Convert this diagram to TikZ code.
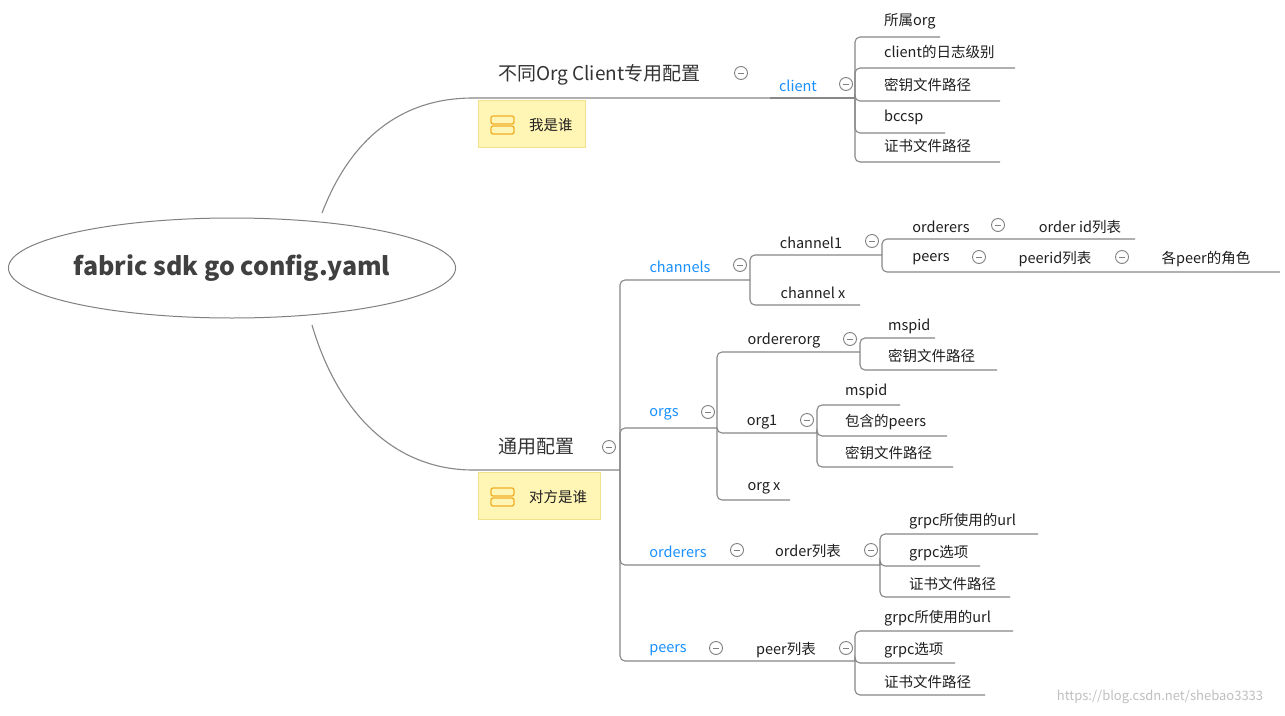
\documentclass[tikz,border=0pt]{standalone}
\usepackage{fontspec}
\usetikzlibrary{shapes.geometric}
\setmainfont{Noto Sans CJK SC}
\begin{document}
\begin{tikzpicture}[x=1pt,y=-1pt,
  ln/.style={draw=black!47,line width=1.1pt,rounded corners=5pt},
  lbl/.style={inner sep=0pt,font=\fontsize{14.5}{16}\selectfont,text=black!88},
  blu/.style={inner sep=0pt,font=\fontsize{14.5}{16}\selectfont,text={rgb,255:red,24;green,144;blue,255}},
  big/.style={inner sep=0pt,font=\fontsize{19}{22}\selectfont,text=black!80},
  note/.style={draw={rgb,255:red,245;green,225;blue,140},fill={rgb,255:red,255;green,245;blue,180},line width=1pt},
  ico/.style={draw={rgb,255:red,240;green,175;blue,40},line width=1.3pt,rounded corners=2pt}]
\useasboundingbox (0,0) rectangle (1285,715);
\fill[white] (0,0) rectangle (1285,715);
\newcommand\mmc[2]{\draw[black!50,line width=0.9pt,fill=white] (#1,#2) circle (6.5);\draw[black!50,line width=1pt] (#1-3,#2)--(#1+3,#2);}
% root
\node[draw=black!50,line width=1pt,ellipse,minimum width=426,minimum height=100,inner sep=0pt,font=\fontsize{25}{28}\selectfont\bfseries,text=black!75] (root) at (232,268) {fabric sdk go config.yaml};
% top branch
\coordinate (rt) at (322,213); \coordinate (topS) at (478,98); \coordinate (topE) at (770,98);
\draw[ln] (rt) .. controls (350,140) and (400,98) .. (topS) -- (topE);
\node[big,anchor=west] (top) at (498,75) {不同Org Client专用配置}; \mmc{741}{73}
\node[note,minimum width=107,minimum height=47,anchor=north west] (n1) at (478,100) {};
\draw[ico] (491,116) rectangle (514,124); \draw[ico] (491,126) rectangle (514,134);
\node[lbl,anchor=west] (n1t) at (529,125) {我是谁};
\coordinate (clE) at (855,98);
\draw[ln] (topE) -- (clE);
\node[blu] (cl) at (798,86) {client}; \mmc{846}{84}
\foreach \n/\y/\xe/\t in {a/37/940/所属org,b/68/1015/client的日志级别,c/101/1000/密钥文件路径,d/133/945/bccsp,e/162/1000/证书文件路径}{
  \coordinate (cl\n) at (\xe,\y);
  \draw[ln] (clE) |- (cl\n);
  \node[lbl,anchor=west] (cl\n t) at (884,\y-16) {\t};
}
% bottom branch
\coordinate (rb) at (312,325); \coordinate (botS) at (478,470); \coordinate (botE) at (620,470);
\draw[ln] (rb) .. controls (340,420) and (400,470) .. (botS) -- (botE);
\node[big,anchor=west] (bot) at (498,447) {通用配置}; \mmc{609}{447}
\node[note,minimum width=122,minimum height=47,anchor=north west] (n2) at (478,472) {};
\draw[ico] (491,488) rectangle (514,496); \draw[ico] (491,498) rectangle (514,506);
\node[lbl,anchor=west] (n2t) at (529,497) {对方是谁};
% level 2
\coordinate (chE) at (750,280); \coordinate (orE) at (717,428); \coordinate (odE) at (880,565); \coordinate (peE) at (855,661);
\foreach \c in {chE,orE,odE,peE} \draw[ln] (botE) |- (\c);
\node[blu] (ch) at (680,267) {channels}; \mmc{740}{265}
\node[blu] (or) at (664,414) {orgs}; \mmc{708}{412}
\node[blu] (od) at (678,552) {orderers}; \mmc{737}{550}
\node[blu] (pe) at (668,650) {peers}; \mmc{716}{648}
% channels
\coordinate (c1E) at (882,255); \coordinate (cxE) at (860,305);
\draw[ln] (chE) |- (c1E); \draw[ln] (chE) |- (cxE);
\node[lbl] (c1) at (811,243) {channel1}; \mmc{872}{241}
\node[lbl] (cx) at (813,293) {channel x};
\coordinate (c1o) at (1135,239); \coordinate (c1p) at (1280,272);
\draw[ln] (c1E) |- (c1o); \draw[ln] (c1E) |- (c1p);
\node[lbl] (oo) at (941,227) {orderers}; \mmc{998}{225}
\node[lbl] (ooid) at (1080,227) {order id列表};
\node[lbl] (pp) at (931,259) {peers}; \mmc{979}{257}
\node[lbl] (ppid) at (1055,259) {peerid列表}; \mmc{1122}{257}
\node[lbl] (pprole) at (1206,259) {各peer的角色};
% orgs
\coordinate (ooE) at (860,352); \coordinate (o1E) at (817,433); \coordinate (oxE) at (790,500);
\foreach \c in {ooE,o1E,oxE} \draw[ln] (orE) |- (\c);
\node[lbl] (oorg) at (784,341) {ordererorg}; \mmc{850}{339}
\node[lbl] (o1) at (762,422) {org1}; \mmc{807}{420}
\node[lbl] (ox) at (764,488) {org x};
\coordinate (ooa) at (935,338); \coordinate (oob) at (997,370);
\draw[ln] (ooE) |- (ooa); \draw[ln] (ooE) |- (oob);
\node[lbl,anchor=west] (ooat) at (888,326) {mspid};
\node[lbl,anchor=west] (oobt) at (888,356) {密钥文件路径};
\foreach \n/\y/\xe/\t in {a/405/900/mspid,b/436/947/包含的peers,c/467/953/密钥文件路径}{
  \coordinate (o1\n) at (\xe,\y);
  \draw[ln] (o1E) |- (o1\n);
  \node[lbl,anchor=west] (o1\n t) at (845,\y-14) {\t};
}
% orderers
\node[lbl] (odl) at (808,551) {order列表}; \mmc{871}{550}
\foreach \n/\y/\xe/\t in {a/534/1038/grpc所使用的url,b/566/980/grpc选项,c/597/1010/证书文件路径}{
  \coordinate (od\n) at (\xe,\y);
  \draw[ln] (odE) |- (od\n);
  \node[lbl,anchor=west] (od\n t) at (909,\y-13) {\t};
}
% peers
\node[lbl] (pel) at (786,650) {peer列表}; \mmc{846}{648}
\foreach \n/\y/\xe/\t in {a/631/1013/grpc所使用的url,b/663/955/grpc选项,c/695/985/证书文件路径}{
  \coordinate (pe\n) at (\xe,\y);
  \draw[ln] (peE) |- (pe\n);
  \node[lbl,anchor=west] (pe\n t) at (884,\y-13) {\t};
}
\node[inner sep=0pt,font=\fontsize{13}{15}\selectfont,text=black!25] (wm) at (1160,697) {https://blog.csdn.net/shebao3333};
\end{tikzpicture}
\end{document}
